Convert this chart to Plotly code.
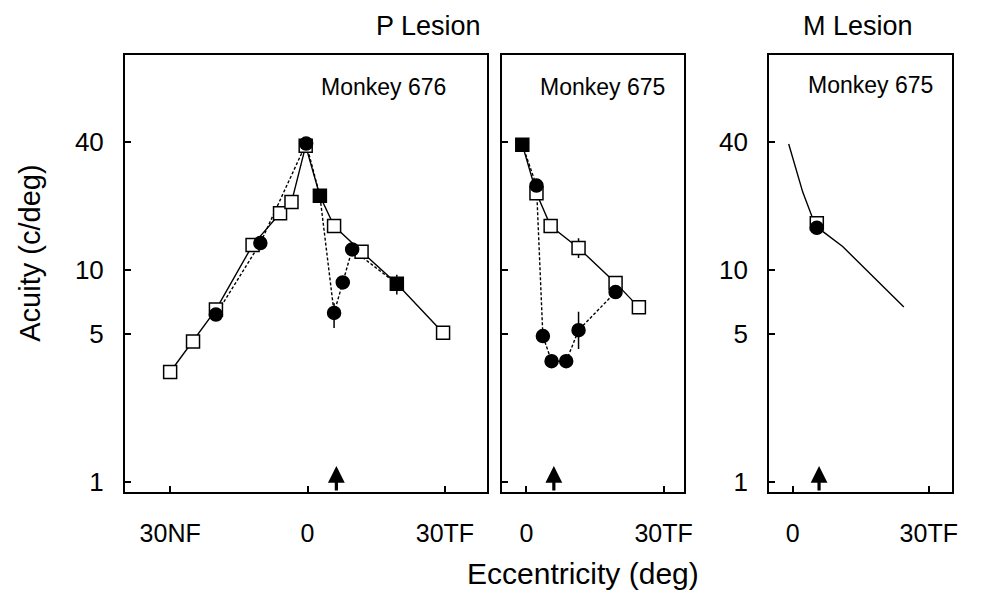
import math
import plotly.graph_objects as go

# ---------------- data ----------------
y_ticks = [1, 5, 10, 40]
y_tick_text = ["1", "5", "10", "40"]

p1_x_ticks = [-30, 0, 30]
p1_x_text = ["30NF", "0", "30TF"]
p23_x_ticks = [0, 30]
p23_x_text = ["0", "30TF"]

# Panel 1: P lesion, Monkey 676
p1_open_x = [-30, -25, -20, -12, -6, -3.5, -0.4, 5.8, 11.8, 29.6]
p1_open_y = [3.3, 4.6, 6.5, 13.1, 18.5, 20.9, 38.5, 16.1, 12.2, 5.06]
p1_circ_x = [-20, -10.3, -0.3, 5.8, 7.7, 9.75]
p1_circ_y = [6.16, 13.4, 39.5, 6.27, 8.73, 12.5]
p1_circ_err_plus = [0, 0, 0, 0.7, 0, 0]
p1_circ_err_minus = [0, 0, 0, 0.95, 0, 0]
p1_fill_x = [2.7, 19.5]
p1_fill_y = [22.4, 8.6]
p1_fill_err_plus = [0, 0.9]
p1_fill_err_minus = [0, 0.95]

# Panel 2: P lesion, Monkey 675
p2_open_x = [2.2, 5.3, 11.4, 19.5, 24.6]
p2_open_y = [23.0, 16.1, 12.7, 8.69, 6.66]
p2_open_err_plus = [0, 0, 1.4, 0, 0]
p2_open_err_minus = [0, 0, 1.3, 0, 0]
p2_circ_x = [2.2, 3.6, 5.5, 8.7, 11.4, 19.5]
p2_circ_y = [25.0, 4.88, 3.71, 3.71, 5.2, 7.87]
p2_circ_err_plus = [0, 0, 0, 0, 1.15, 0]
p2_circ_err_minus = [0, 0, 0, 0, 0.96, 0]
p2_fill_x = [-0.9]
p2_fill_y = [39.0]

# Panel 3: M lesion, Monkey 675
p3_line_x = [-0.9, 2.2, 4.4, 6.6, 11.0, 16.8, 24.5]
p3_line_y = [39.3, 23.3, 17.5, 15.2, 12.9, 9.7, 6.68]
p3_open_x = [5.3]
p3_open_y = [16.6]
p3_circ_x = [5.3]
p3_circ_y = [15.8]

lesion_x = [6.3, 6.0, 5.8]
panel_titles = ["P Lesion", "M Lesion"]
monkey_labels = ["Monkey 676", "Monkey 675", "Monkey 675"]

# ---------------- figure ----------------
PAGE_OFF = 8                      # default body margin of the html page
W, H = 982 - PAGE_OFF, 600 - PAGE_OFF
FONT = "Liberation Sans, Arial, Helvetica, sans-serif"

def fx(px):
    return (px - PAGE_OFF) / W

def fy(py):
    return 1 - (py - PAGE_OFF) / H

fig = go.Figure()

def merged(xa, ya, xb, yb):
    pts = sorted(zip(list(xa) + list(xb), list(ya) + list(yb)), key=lambda p: p[0])
    return [p[0] for p in pts], [p[1] for p in pts]

def add_line(xs, ys, ax, dash):
    fig.add_trace(go.Scatter(x=xs, y=ys, mode="lines", xaxis=ax[0], yaxis=ax[1],
                             line=dict(color="black", width=1.4, dash=dash),
                             showlegend=False, hoverinfo="skip"))

def add_markers(xs, ys, ax, symbol, fill, ep=None, em=None):
    err = None
    if ep is not None:
        err = dict(type="data", symmetric=False, array=ep, arrayminus=em,
                   color="black", thickness=1.5, width=0)
    fig.add_trace(go.Scatter(x=xs, y=ys, mode="markers", xaxis=ax[0], yaxis=ax[1],
                             error_y=err,
                             marker=dict(symbol=symbol, size=13, color=fill,
                                         line=dict(color="black", width=1.5)),
                             showlegend=False, hoverinfo="skip"))

# panel 1
a1 = ("x", "y")
sx, sy = merged(p1_open_x, p1_open_y, p1_fill_x, p1_fill_y)
add_line(sx, sy, a1, "solid")
dx, dy = merged(p1_circ_x, p1_circ_y, p1_fill_x, p1_fill_y)
add_line(dx, dy, a1, "3px,2px")
add_markers(p1_open_x, p1_open_y, a1, "square", "white")
add_markers(p1_circ_x, p1_circ_y, a1, "circle", "black", p1_circ_err_plus, p1_circ_err_minus)
add_markers(p1_fill_x, p1_fill_y, a1, "square", "black", p1_fill_err_plus, p1_fill_err_minus)

# panel 2
a2 = ("x2", "y2")
sx, sy = merged(p2_open_x, p2_open_y, p2_fill_x, p2_fill_y)
add_line(sx, sy, a2, "solid")
dx, dy = merged(p2_circ_x, p2_circ_y, p2_fill_x, p2_fill_y)
add_line(dx, dy, a2, "3px,2px")
add_markers(p2_open_x, p2_open_y, a2, "square", "white", p2_open_err_plus, p2_open_err_minus)
add_markers(p2_circ_x, p2_circ_y, a2, "circle", "black", p2_circ_err_plus, p2_circ_err_minus)
add_markers(p2_fill_x, p2_fill_y, a2, "square", "black")

# panel 3
a3 = ("x3", "y3")
add_line(p3_line_x, p3_line_y, a3, "solid")
add_markers(p3_open_x, p3_open_y, a3, "square", "white")
add_markers(p3_circ_x, p3_circ_y, a3, "circle", "black")

YDOM = [fy(496), fy(55)]
YRANGE = [-0.047, 2.016]

def xaxis(dom, rng, tv, tt, anchor):
    return dict(domain=[fx(dom[0]), fx(dom[1])], range=rng, anchor=anchor,
                tickvals=tv, ticktext=tt, ticks="inside", ticklen=6, tickwidth=1.5,
                tickcolor="black", showline=True, linecolor="black", linewidth=2,
                mirror=True, showgrid=False, zeroline=False, ticklabelstandoff=18,
                tickfont=dict(family=FONT, size=25, color="black"))

def yaxis(anchor, labels):
    return dict(domain=YDOM, type="log", range=YRANGE, anchor=anchor,
                tickvals=y_ticks, ticktext=y_tick_text, ticks="inside", ticklen=6,
                tickwidth=1.5, tickcolor="black", showline=True, linecolor="black",
                linewidth=2, mirror=True, showgrid=False, zeroline=False,
                showticklabels=labels, ticklabelstandoff=14,
                tickfont=dict(family=FONT, size=26, color="black"))

fig.update_layout(
    width=W, height=H, margin=dict(l=0, r=0, t=0, b=0),
    paper_bgcolor="white", plot_bgcolor="white",
    xaxis=xaxis((126, 491), [-39.85, 39.2], p1_x_ticks, p1_x_text, "y"),
    xaxis2=xaxis((506.5, 690), [-5.25, 34.55], p23_x_ticks, p23_x_text, "y2"),
    xaxis3=xaxis((775.5, 959.5), [-5.2, 35.05], p23_x_ticks, p23_x_text, "y3"),
    yaxis=yaxis("x", True),
    yaxis2=yaxis("x2", False),
    yaxis3=yaxis("x3", True),
)

ann = []
# lesion arrows
for i, lx in enumerate(lesion_x):
    xr = ["x", "x2", "x3"][i]
    yr = ["y", "y2", "y3"][i]
    ann.append(dict(x=lx, y=math.log10(1.19), xref=xr, yref=yr, ax=lx, ay=YRANGE[0],
                    axref=xr, ayref=yr, text="", showarrow=True, arrowhead=2,
                    arrowsize=1.05, arrowwidth=3.2, arrowcolor="black", standoff=0))
# monkey labels
for txt, cx, cy in zip(monkey_labels, [387, 607, 878], [88, 88, 86]):
    ann.append(dict(x=fx(cx), y=fy(cy), xref="paper", yref="paper", text=txt,
                    showarrow=False, xanchor="center", yanchor="middle",
                    font=dict(family=FONT, size=23, color="black")))
# panel titles
for txt, cx in zip(panel_titles, [432, 865]):
    ann.append(dict(x=fx(cx), y=fy(26), xref="paper", yref="paper", text=txt,
                    showarrow=False, xanchor="center", yanchor="middle",
                    font=dict(family=FONT, size=27, color="black")))
# axis titles
ann.append(dict(x=fx(30), y=fy(255), xref="paper", yref="paper", text="Acuity (c/deg)",
                showarrow=False, textangle=-90, xanchor="center", yanchor="middle",
                font=dict(family=FONT, size=29, color="black")))
ann.append(dict(x=fx(588), y=fy(578), xref="paper", yref="paper", text="Eccentricity (deg)",
                showarrow=False, xanchor="center", yanchor="middle",
                font=dict(family=FONT, size=30, color="black")))
fig.update_layout(annotations=ann)

fig.write_html("out.html")
